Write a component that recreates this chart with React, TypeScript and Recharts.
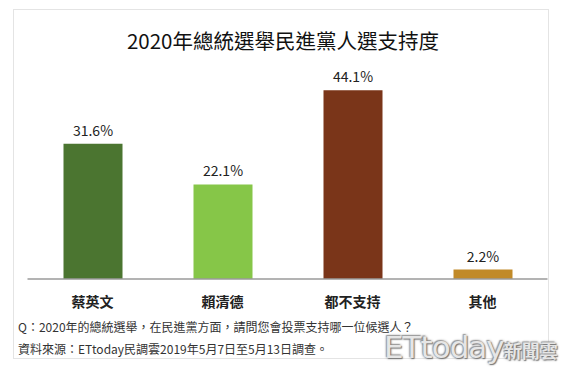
import React from 'react';
import { BarChart, Bar, XAxis, YAxis, Cell, LabelList } from 'recharts';

const candidates = ['蔡英文', '賴清德', '都不支持', '其他'];
const support = [31.6, 22.1, 44.1, 2.2];

const barColors = ['#4b7530', '#86c648', '#7a3519', '#c18a28'];

const data = candidates.map((name, i) => ({ name, value: support[i] }));

const font = '"Noto Sans CJK TC", "Noto Sans", sans-serif';

const CategoryTick = (props: any) => {
    const { x, y, payload } = props;
    return (
        <text x={x} y={y + 28} textAnchor="middle" fontSize={14} fontWeight="bold" fill="#222" fontFamily={font}>
            {payload.value}
        </text>
    );
};

export default function App() {
    return (
        <div style={{ position: 'absolute', left: 0, top: 0, width: 566, height: 368, background: '#fff', fontFamily: font, overflow: 'hidden' }}>
            <div style={{ position: 'absolute', left: 13, top: 9, width: 534, height: 348, border: '1px solid #e4e4e4' }} />
            <div style={{ position: 'absolute', left: 0, top: 27, width: 566, textAlign: 'center', fontSize: 20.5, color: '#111', lineHeight: '26px' }}>
                2020年總統選舉民進黨人選支持度
            </div>
            <div style={{ position: 'absolute', left: 0, top: 0 }}>
                <BarChart width={566} height={368} data={data} margin={{ top: 65, right: 18.5, left: 27.5, bottom: 49 }}>
                    <XAxis
                        dataKey="name"
                        height={40}
                        tickLine={false}
                        tickSize={0}
                        tickMargin={0}
                        axisLine={{ stroke: '#9a9a9a', strokeWidth: 1.5 }}
                        tick={<CategoryTick />}
                        interval={0}
                    />
                    <YAxis hide domain={[0, 50]} />
                    <Bar dataKey="value" barSize={59} isAnimationActive={false}>
                        {data.map((d, i) => (
                            <Cell key={d.name} fill={barColors[i]} />
                        ))}
                        <LabelList
                            dataKey="value"
                            position="top"
                            offset={8}
                            formatter={(v: any) => `${v}%`}
                            style={{ fontSize: 14, fill: '#222', fontFamily: font }}
                        />
                    </Bar>
                </BarChart>
            </div>
            <div style={{ position: 'absolute', left: 18, top: 318, fontSize: 12, color: '#333', lineHeight: '18px', whiteSpace: 'nowrap' }}>
                Q：2020年的總統選舉，在民進黨方面，請問您會投票支持哪一位候選人？
            </div>
            <div style={{ position: 'absolute', left: 18, top: 340, fontSize: 12, color: '#333', lineHeight: '18px', whiteSpace: 'nowrap' }}>
                資料來源：ETtoday民調雲2019年5月7日至5月13日調查。
            </div>
            {/* watermark */}
            <div style={{ position: 'absolute', left: 384, top: 330, whiteSpace: 'nowrap', color: '#e6e6e6', textShadow: '1px 1px 1px #777, -1px -1px 1px #999, 0 0 3px #888', lineHeight: '34px' }}>
                <span style={{ fontSize: 31, fontFamily: '"DejaVu Sans", sans-serif', letterSpacing: -1 }}>ETtoday</span>
                <span style={{ fontSize: 18, fontWeight: 'bold' }}>新聞雲</span>
            </div>
        </div>
    );
}
